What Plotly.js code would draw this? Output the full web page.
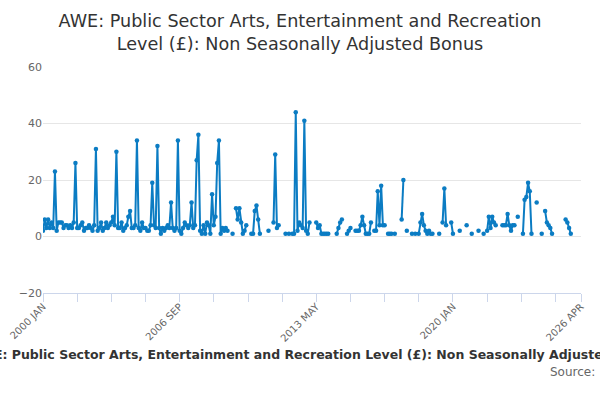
<!DOCTYPE html>
<html>
<head>
<meta charset="utf-8">
<script src="https://cdn.plot.ly/plotly-3.0.1.min.js"></script>
<style>
  html,body{margin:0;padding:0;background:#fff;}
  #chart{width:600px;height:400px;}
</style>
</head>
<body>
<div id="chart"></div>
<script>
// monthly bonus values from 2000 JAN, null = no figure
const startYear = 2000;
const bonus = [
  2, 6, 3, 6, 3, 5, 3, 23, 2, 5,
  5, 5, 3, 4, 4, 3, 4, 3, 5, 26,
  3, 3, 4, 5, 2, 3, 3, 4, 3, 2,
  4, 31, 2, 3, 5, 2, 3, 5, 3, 4,
  5, 7, 4, 30, 3, 3, 5, 2, 3, 4,
  7, 9, 3, 3, 4, 34, 3, 2, 5, 3,
  3, 2, 2, 4, 19, 4, 3, 32, 3, 1,
  3, 2, 3, 4, 3, 12, 3, 2, 3, 34,
  2, 1, 3, 5, 4, 3, 4, 12, 3, 4,
  27, 36, 2, 1, 4, 1, 5, 4, 1, 15,
  4, 7, 26, 34, 1, 3, 2, 3, 2, null,
  null, 1, null, 10, 6, 10, 5, 1, 2, 4,
  null, null, 1, 1, 9, 11, 6, 1, null, null,
  null, null, 2, null, null, 5, 29, 3, 4, null,
  null, null, 1, null, 1, null, 1, 1, 44, 2,
  5, 4, 3, 41, 2, 1, 5, null, null, null,
  5, 3, 4, 1, 1, 1, 1, 1, null, null,
  null, null, 1, 3, 5, 6, null, null, 1, 2,
  3, null, null, 2, 2, 2, 4, 7, 4, 1,
  1, 1, 5, null, 2, 2, 16, 4, 18, 4,
  4, null, 1, 1, 1, null, 1, null, null, null,
  6, 20, null, 2, null, null, 1, null, 1, null,
  1, 5, 8, 4, 2, 1, 2, 1, 1, null,
  null, null, 1, null, 5, 17, 4, null, null, 5,
  1, null, null, null, 2, null, null, null, 4, null,
  null, 1, null, null, null, 2, null, null, 1, null,
  2, 7, 3, 7, 5, 4, null, null, null, 4,
  4, 4, 8, 4, 2, 4, 4, null, 7, null,
  null, 1, 13, 14, 19, 16, 1, null, null, 12,
  null, null, 1, null, 9, 5, 4, 3, 1, null,
  null, null, null, null, null, null, 6, 5, 3, 1
];

const tickDates = ['2000-01-01', '2006-09-01', '2013-05-01', '2020-01-01', '2026-04-01'];
const tickLabels = ['2000 JAN', '2006 SEP', '2013 MAY', '2020 JAN', '2026 APR'];
const titleText = 'AWE: Public Sector Arts, Entertainment and Recreation Level (£): Non Seasonally Adjusted Bonus';

let months = [];
for (let i = 0; i < bonus.length; i++) {
  let y = startYear + Math.floor(i / 12);
  let m = (i % 12) + 1;
  months.push(y + '-' + (m < 10 ? '0' + m : m) + '-01');
}

let trace = {
  x: months, y: bonus, type: 'scatter', mode: 'lines+markers',
  connectgaps: false,
  line: {color: '#0b7cc3', width: 2},
  marker: {color: '#0b7cc3', size: 4.5},
  hoverinfo: 'x+y'
};

let layout = {
  width: 600, height: 400,
  paper_bgcolor: '#fff', plot_bgcolor: '#fff',
  font: {family: 'DejaVu Sans, sans-serif', color: '#666', size: 11},
  margin: {l: 43, r: 19, t: 67, b: 107},
  showlegend: false,
  title: {
    text: 'AWE: Public Sector Arts, Entertainment and Recreation<br>Level (£): Non Seasonally Adjusted Bonus',
    font: {size: 17.6, color: '#333'}, x: 0.5, xanchor: 'center',
    yref: 'container', y: 0.932, yanchor: 'middle'
  },
  xaxis: {
    type: 'date',
    range: ['2000-01-01', '2026-04-01'],
    tickmode: 'array', tickvals: tickDates, ticktext: tickLabels,
    tickangle: -45, ticks: 'outside', ticklen: 8, tickcolor: '#ccd6eb',
    ticklabelstandoff: -5,
    showline: true, linecolor: '#ccd6eb', linewidth: 1,
    showgrid: false, zeroline: false,
    tickfont: {size: 10, color: '#666'},
    minor: {tickmode: 'linear', tick0: '2000-01-01', dtick: 'M20', ticks: 'outside', ticklen: 8, tickcolor: '#ccd6eb', showgrid: false}
  },
  yaxis: {
    range: [-20, 60],
    tickvals: [-20, 0, 20, 40, 60],
    showgrid: true, gridcolor: '#e6e6e6', zeroline: false,
    showline: false, ticks: '',
    tickfont: {size: 11, color: '#666'}
  },
  annotations: [
    {text: '<b>' + titleText + '</b>', xref: 'paper', yref: 'paper', x: 0.505, y: -0.27,
     xanchor: 'center', yanchor: 'middle', showarrow: false,
     font: {size: 12.5, color: '#333'}},
    {text: 'Source:', xref: 'paper', yref: 'paper', x: 1.03, y: -0.35,
     xanchor: 'right', yanchor: 'middle', showarrow: false,
     font: {size: 12, color: '#666'}}
  ]
};

Plotly.newPlot('chart', [trace], layout, {displayModeBar: false, staticPlot: true});
</script>
</body>
</html>
